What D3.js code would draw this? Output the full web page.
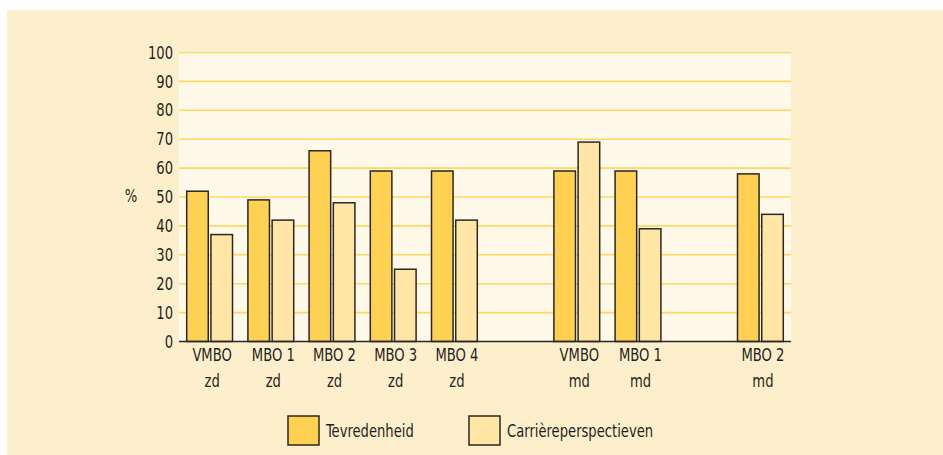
<!DOCTYPE html>
<html lang="nl">
<head>
<meta charset="UTF-8">
<title>Tevredenheid en carrièreperspectieven</title>
<script src="https://cdnjs.cloudflare.com/ajax/libs/d3/7.8.5/d3.min.js"></script>
<style>
    body { margin: 0; background: #fff; }
    svg text { font-family: "Liberation Sans Narrow", "DejaVu Sans Condensed", sans-serif; fill: #231f20; }
</style>
</head>
<body>
<svg id="chart" width="943" height="455"></svg>
<script>
// slots on the x axis; the gap keys are the empty spaces between the zd and md groups
var slots = ["VMBO zd", "MBO 1 zd", "MBO 2 zd", "MBO 3 zd", "MBO 4 zd", "gap1",
             "VMBO md", "MBO 1 md", "gap2", "MBO 2 md"];
var labelTop = ["VMBO", "MBO 1", "MBO 2", "MBO 3", "MBO 4", "", "VMBO", "MBO 1", "", "MBO 2"];
var labelBottom = ["zd", "zd", "zd", "zd", "zd", "", "md", "md", "", "md"];
var tevredenheid = [52, 49, 66, 59, 59, null, 59, 59, null, 58];
var carriere = [37, 42, 48, 25, 42, null, 69, 39, null, 44];
var seriesNames = ["Tevredenheid", "Carrièreperspectieven"];
var seriesColors = ["#ffd152", "#ffe6a6"];
var yTicks = [0, 10, 20, 30, 40, 50, 60, 70, 80, 90, 100];

var svg = d3.select("#chart");
var squeeze = 0.86;

// text squeezed horizontally, to look like the condensed font of the original
function label(g, px, py, str, anchor) {
    return g.append("text")
        .attr("transform", "translate(" + px + "," + py + ") scale(" + squeeze + ",1)")
        .attr("dy", "0.36em")
        .attr("text-anchor", anchor || "middle")
        .attr("font-size", 17)
        .text(str);
}

// outer panel
svg.append("rect").attr("x", 7).attr("y", 10).attr("width", 936).attr("height", 445)
    .attr("fill", "#feefcc");

var plotLeft = 179, plotRight = 791, plotTop = 52.5, plotBottom = 341.5;

var x = d3.scaleBand().domain(slots).range([plotLeft, plotRight]);
var inner = d3.scaleBand().domain([0, 1]).range([7.7, x.bandwidth() - 7.7]).paddingInner(0.11);
var y = d3.scaleLinear().domain([0, 100]).range([plotBottom, plotTop]);

// plot background
svg.append("rect").attr("x", plotLeft).attr("y", plotTop - 2).attr("width", plotRight - plotLeft)
    .attr("height", plotBottom - plotTop + 2).attr("fill", "#fff9ea");

// grid lines
svg.append("g").selectAll("line").data(yTicks.filter(function (d) { return d > 0; }))
    .enter().append("line")
    .attr("x1", plotLeft).attr("x2", plotRight)
    .attr("y1", function (d) { return y(d); })
    .attr("y2", function (d) { return y(d); })
    .attr("stroke", "#ffd862").attr("stroke-width", 1.6);

// y tick labels
var gy = svg.append("g");
yTicks.forEach(function (t) {
    label(gy, plotLeft - 6, y(t), String(t), "end");
});

label(svg, 131, 196, "%");

// bars
var series = [tevredenheid, carriere];
series.forEach(function (vals, s) {
    svg.append("g").selectAll("rect")
        .data(slots.map(function (k, i) { return { key: k, v: vals[i] }; })
            .filter(function (d) { return d.v != null; }))
        .enter().append("rect")
        .attr("x", function (d) { return x(d.key) + inner(s); })
        .attr("y", function (d) { return y(d.v); })
        .attr("width", inner.bandwidth())
        .attr("height", function (d) { return y(0) - y(d.v); })
        .attr("fill", seriesColors[s])
        .attr("stroke", "#2b2722").attr("stroke-width", 1.5);
});

// x baseline
svg.append("line").attr("x1", plotLeft).attr("x2", plotRight)
    .attr("y1", plotBottom).attr("y2", plotBottom)
    .attr("stroke", "#2b2722").attr("stroke-width", 1.5);

// x labels, two lines each
var xl = svg.append("g");
slots.forEach(function (k, i) {
    var cx = x(k) + x.bandwidth() / 2 + 2.5;
    if (labelTop[i]) label(xl, cx, 355, labelTop[i]);
    if (labelBottom[i]) label(xl, cx, 381, labelBottom[i]);
});

// legend
var legendX = [288, 469];
seriesNames.forEach(function (name, s) {
    svg.append("rect").attr("x", legendX[s]).attr("y", 416).attr("width", 31).attr("height", 29)
        .attr("fill", seriesColors[s]).attr("stroke", "#2b2722").attr("stroke-width", 1.5);
    label(svg, legendX[s] + 38, 431, name, "start");
});
</script>
</body>
</html>
